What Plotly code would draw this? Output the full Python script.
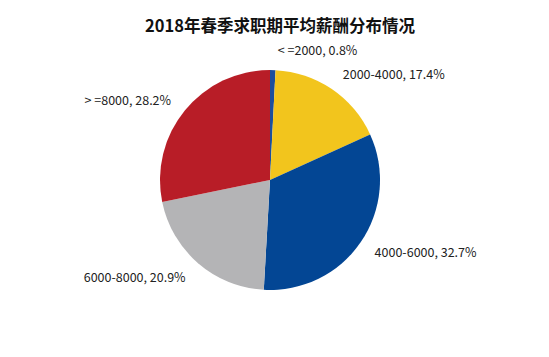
import plotly.graph_objects as go

categories = ["<=2000", "2000-4000", "4000-6000", "6000-8000", ">=8000"]
display_labels = ["< =2000", "2000-4000", "4000-6000", "6000-8000", "> =8000"]
values = [0.8, 17.4, 32.7, 20.9, 28.2]
colors = ["#1c4f9c", "#f2c51d", "#034694", "#b4b4b6", "#b81d27"]
title = "2018年春季求职期平均薪酬分布情况"

W, H = 549, 357
OFF = 8  # page body margin of the browser
cx, cy, r = 270 - OFF, 180 - OFF, 110
r_text = 121


def dom(rad):
    return dict(x=[(cx - rad) / W, (cx + rad) / W], y=[(H - cy - rad) / H, (H - cy + rad) / H])


fig = go.Figure()
# invisible larger pie carrying the outside labels (places them farther out)
fig.add_trace(go.Pie(
    labels=display_labels, values=values, sort=False, direction="clockwise", rotation=0,
    marker=dict(colors=["rgba(0,0,0,0)"] * len(values), line=dict(width=0)),
    texttemplate="%{label}, %{value:.1f}%",
    textposition="outside",
    textfont=dict(size=12.5, color="#222222", family="Noto Sans CJK SC"),
    showlegend=False, hoverinfo="skip",
    domain=dom(r_text),
))
# visible pie
fig.add_trace(go.Pie(
    labels=display_labels, values=values, sort=False, direction="clockwise", rotation=0,
    marker=dict(colors=colors, line=dict(width=0)),
    textinfo="none",
    showlegend=False, hoverinfo="label+value",
    domain=dom(r),
))

fig.update_layout(
    width=W, height=H,
    margin=dict(l=0, r=0, t=0, b=0),
    paper_bgcolor="white",
    title=dict(text="<b>" + title + "</b>", x=(280 - OFF) / W, xanchor="center", y=1 - (26 - OFF) / H,
               yanchor="middle",
               font=dict(size=16.5, color="#111111", family="Noto Sans CJK SC")),
)

fig.write_html("out.html")
